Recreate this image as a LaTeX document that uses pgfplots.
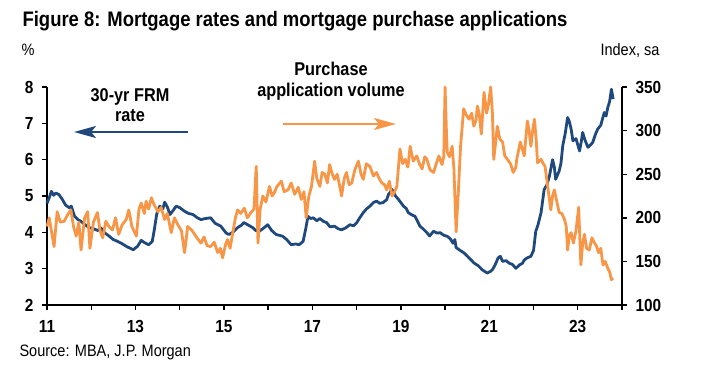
\documentclass[border=0pt]{standalone}
\usepackage{fontspec}
\setmainfont{Liberation Sans}[FakeStretch=0.88]
\usepackage{pgfplots}
\pgfplotsset{compat=1.18}
\usetikzlibrary{arrows.meta}
\definecolor{jpblue}{RGB}{31,73,125}
\definecolor{jporange}{RGB}{247,150,70}
\begin{document}
\begin{tikzpicture}[x=1pt,y=1pt]
\useasboundingbox (0,0) rectangle (701,365);
\pgfplotsset{
  every axis/.append style={
    at={(47pt,60pt)}, anchor=south west, scale only axis,
    width=575pt, height=218pt, xmin=2011, xmax=2024,
    axis line style={-, line width=1.7pt, black},
    tick style={line width=1.4pt, black},
    major tick length=5pt, tick align=outside,
    tick label style={font=\fontsize{17.5}{19}\selectfont\bfseries},
    /pgf/number format/assume math mode=true,
    clip=false,
  }
}
\begin{axis}[
  ymin=2, ymax=8,
  axis y line*=left, axis x line*=bottom,
  xtick={2011,...,2024},
  xticklabels={11,,13,,15,,17,,19,,21,,23,},
  ytick={2,...,8},
  yticklabel style={xshift=-5pt},
  xticklabel style={yshift=-7pt},
]
\addplot[jpblue, line width=2.8pt, line join=round] coordinates {
(2011.00,4.80)(2011.05,4.95)(2011.10,5.13)(2011.15,5.02)(2011.20,5.08)(2011.27,5.04)
(2011.35,4.90)(2011.42,4.75)(2011.50,4.68)(2011.55,4.72)(2011.62,4.45)(2011.70,4.35)
(2011.77,4.30)(2011.85,4.22)(2011.95,4.13)(2012.05,4.10)(2012.15,4.05)(2012.22,4.12)
(2012.30,3.99)(2012.40,3.90)(2012.50,3.80)(2012.58,3.76)(2012.68,3.70)(2012.80,3.61)
(2012.90,3.55)(2012.95,3.52)(2013.05,3.62)(2013.13,3.78)(2013.20,3.72)(2013.30,3.66)
(2013.38,3.75)(2013.43,4.10)(2013.48,4.50)(2013.55,4.72)(2013.62,4.65)(2013.66,4.83)
(2013.72,4.70)(2013.78,4.49)(2013.85,4.60)(2013.92,4.72)(2014.00,4.68)(2014.11,4.58)
(2014.20,4.52)(2014.30,4.49)(2014.40,4.40)(2014.48,4.35)(2014.58,4.38)(2014.70,4.40)
(2014.80,4.25)(2014.93,4.17)(2015.05,3.98)(2015.11,3.94)(2015.20,4.00)(2015.31,4.13)
(2015.40,4.20)(2015.45,4.27)(2015.55,4.20)(2015.65,4.13)(2015.72,4.05)(2015.80,4.03)
(2015.90,4.12)(2015.99,4.21)(2016.08,4.05)(2016.18,3.94)(2016.25,3.92)(2016.33,3.89)
(2016.42,3.80)(2016.52,3.66)(2016.62,3.68)(2016.70,3.66)(2016.79,3.75)(2016.85,4.10)
(2016.90,4.44)(2016.96,4.38)(2017.02,4.40)(2017.10,4.32)(2017.17,4.38)(2017.25,4.30)
(2017.32,4.27)(2017.40,4.15)(2017.50,4.17)(2017.58,4.10)(2017.66,4.07)(2017.75,4.12)
(2017.85,4.21)(2017.93,4.18)(2018.00,4.26)(2018.07,4.40)(2018.15,4.54)(2018.22,4.64)
(2018.30,4.72)(2018.38,4.82)(2018.45,4.86)(2018.52,4.80)(2018.60,4.82)(2018.68,4.90)
(2018.72,5.04)(2018.80,5.18)(2018.88,5.00)(2018.95,4.90)(2019.06,4.72)(2019.12,4.66)
(2019.17,4.54)(2019.25,4.48)(2019.32,4.44)(2019.38,4.30)(2019.43,4.17)(2019.50,4.10)
(2019.59,3.99)(2019.65,3.90)(2019.74,4.03)(2019.82,3.98)(2019.89,3.99)(2019.97,3.92)
(2020.05,3.89)(2020.12,3.82)(2020.18,3.70)(2020.22,3.80)(2020.25,3.58)(2020.32,3.52)
(2020.42,3.44)(2020.50,3.35)(2020.58,3.25)(2020.65,3.16)(2020.75,3.08)(2020.84,2.97)
(2020.95,2.88)(2021.02,2.92)(2021.07,2.97)(2021.13,3.10)(2021.20,3.30)(2021.25,3.34)
(2021.30,3.20)(2021.38,3.22)(2021.45,3.15)(2021.52,3.12)(2021.60,3.01)(2021.68,3.10)
(2021.75,3.15)(2021.79,3.24)(2021.86,3.30)(2021.94,3.34)(2022.00,3.50)(2022.05,4.03)
(2022.10,4.20)(2022.17,4.54)(2022.24,5.18)(2022.30,5.30)(2022.36,5.55)(2022.43,6.00)
(2022.47,5.80)(2022.50,5.46)(2022.58,5.69)(2022.62,5.90)(2022.66,6.38)(2022.72,6.75)
(2022.77,7.16)(2022.81,7.05)(2022.85,6.84)(2022.89,6.52)(2022.96,6.58)(2023.04,6.24)
(2023.08,6.50)(2023.11,6.75)(2023.16,6.55)(2023.23,6.34)(2023.30,6.42)(2023.34,6.48)
(2023.40,6.70)(2023.45,6.84)(2023.52,6.95)(2023.60,7.30)(2023.64,7.20)(2023.68,7.44)
(2023.72,7.60)(2023.76,7.94)(2023.80,7.67)
};
\end{axis}
\begin{axis}[
  ymin=100, ymax=350,
  axis y line*=right, axis x line=none,
  ytick={100,150,...,350},
  yticklabel style={xshift=5pt},
]
\addplot[jporange, line width=2.8pt, line join=round] coordinates {
(2011.00,190)(2011.05,200)(2011.10,185)(2011.16,167)(2011.23,207)(2011.30,195)
(2011.39,196)(2011.46,203)(2011.54,209)(2011.60,190)(2011.66,179)(2011.72,195)
(2011.77,163)(2011.85,200)(2011.92,207)(2011.97,165)(2012.05,195)(2012.14,206)
(2012.20,185)(2012.26,177)(2012.33,196)(2012.40,190)(2012.48,186)(2012.55,200)
(2012.62,181)(2012.70,192)(2012.79,198)(2012.85,209)(2012.92,190)(2013.02,179)
(2013.08,210)(2013.13,217)(2013.20,205)(2013.24,219)(2013.30,210)(2013.36,223)
(2013.42,215)(2013.51,207)(2013.58,212)(2013.66,198)(2013.72,205)(2013.81,183)
(2013.88,200)(2013.96,192)(2014.04,185)(2014.11,160)(2014.18,190)(2014.27,186)
(2014.35,180)(2014.42,175)(2014.48,171)(2014.55,178)(2014.62,168)(2014.70,167)
(2014.78,172)(2014.86,160)(2014.92,165)(2014.97,154)(2015.04,170)(2015.08,175)
(2015.14,165)(2015.20,183)(2015.26,200)(2015.31,209)(2015.38,205)(2015.46,211)
(2015.53,200)(2015.61,206)(2015.68,210)(2015.73,259)(2015.77,171)(2015.82,210)
(2015.88,225)(2015.95,218)(2016.03,236)(2016.09,225)(2016.14,229)(2016.20,236)
(2016.30,242)(2016.36,230)(2016.45,232)(2016.52,240)(2016.60,227)(2016.68,235)
(2016.75,221)(2016.81,230)(2016.86,200)(2016.92,225)(2016.98,236)(2017.05,265)
(2017.10,245)(2017.17,236)(2017.22,252)(2017.28,250)(2017.34,240)(2017.39,261)
(2017.45,250)(2017.50,244)(2017.56,250)(2017.62,236)(2017.66,225)(2017.72,245)
(2017.77,252)(2017.83,238)(2017.89,240)(2017.96,255)(2018.04,265)(2018.10,250)
(2018.15,244)(2018.22,262)(2018.30,259)(2018.38,248)(2018.45,252)(2018.51,245)
(2018.57,240)(2018.63,238)(2018.68,232)(2018.74,242)(2018.80,225)(2018.86,230)
(2018.91,236)(2018.98,279)(2019.04,262)(2019.10,267)(2019.16,258)(2019.21,282)
(2019.28,265)(2019.36,271)(2019.42,262)(2019.48,256)(2019.54,270)(2019.59,267)
(2019.66,255)(2019.74,252)(2019.80,262)(2019.86,271)(2019.93,261)(2019.97,270)
(2020.00,350)(2020.03,300)(2020.05,275)(2020.10,270)(2020.16,282)(2020.20,256)
(2020.25,184)(2020.30,230)(2020.35,282)(2020.42,325)(2020.48,318)(2020.54,313)
(2020.60,320)(2020.65,305)(2020.70,312)(2020.73,328)(2020.77,320)(2020.82,296)
(2020.88,344)(2020.94,320)(2020.98,330)(2021.03,350)(2021.07,320)(2021.10,267)
(2021.14,285)(2021.18,305)(2021.24,290)(2021.30,287)(2021.35,271)(2021.41,267)
(2021.48,262)(2021.54,252)(2021.60,258)(2021.62,267)(2021.70,287)(2021.79,271)
(2021.86,311)(2021.90,300)(2021.94,282)(2021.98,300)(2022.02,313)(2022.06,290)
(2022.09,263)(2022.13,265)(2022.17,267)(2022.22,262)(2022.26,259)(2022.33,232)
(2022.39,209)(2022.43,225)(2022.47,232)(2022.52,220)(2022.58,206)(2022.64,205)
(2022.70,198)(2022.74,190)(2022.77,163)(2022.81,180)(2022.85,183)(2022.90,171)
(2022.96,185)(2023.02,212)(2023.07,146)(2023.11,170)(2023.15,181)(2023.20,165)
(2023.26,163)(2023.32,177)(2023.38,171)(2023.42,168)(2023.47,160)(2023.52,165)
(2023.57,146)(2023.62,150)(2023.68,142)(2023.72,138)(2023.76,129)(2023.80,131)
};
\end{axis}
% texts and annotations
\node[anchor=base west, font=\fontsize{21}{24}\selectfont\bfseries] at (19,338) {Figure 8: Mortgage rates and mortgage purchase applications};
\node[anchor=base west, font=\fontsize{16.5}{18}\selectfont] at (18,309) {\%};
\node[anchor=base east, font=\fontsize{16.5}{18}\selectfont] at (663,309) {Index, sa};
\node[anchor=base west, font=\fontsize{16.5}{18}\selectfont] at (16,9) {Source: MBA, J.P. Morgan};
\node[font=\fontsize{18.5}{20}\selectfont\bfseries] at (130,268) {30-yr FRM};
\node[font=\fontsize{18.5}{20}\selectfont\bfseries] at (130,249) {rate};
\node[font=\fontsize{18.5}{20}\selectfont\bfseries] at (331,296) {Purchase};
\node[font=\fontsize{18.5}{20}\selectfont\bfseries] at (331,273) {application volume};
\draw[jpblue, line width=2.4pt, -{Stealth[length=22pt,width=12pt,inset=5pt]}] (188,233) -- (74,233);
\draw[jporange, line width=2.4pt, -{Stealth[length=22pt,width=12pt,inset=5pt]}] (283,241) -- (396,241);
\end{tikzpicture}
\end{document}
